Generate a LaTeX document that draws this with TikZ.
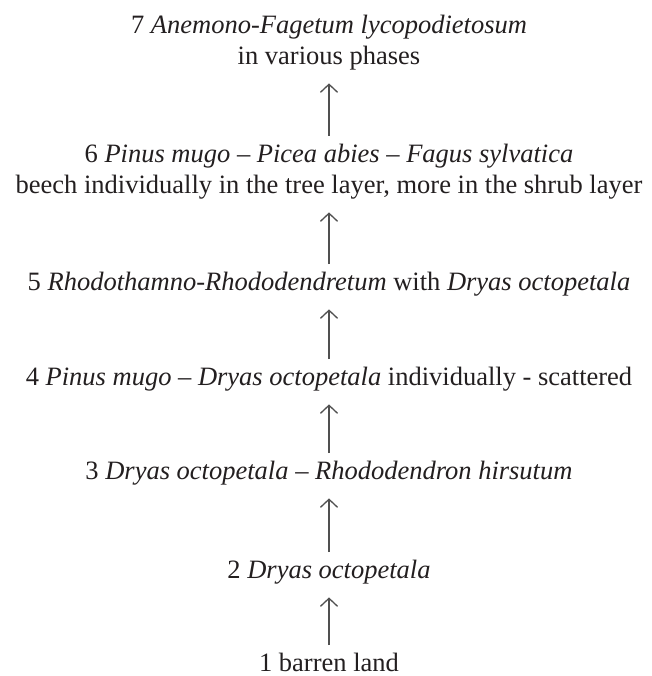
\documentclass[tikz,border=0pt]{standalone}
\usepackage{fontspec}
\setmainfont{Liberation Serif}
\usetikzlibrary{arrows.meta}
\definecolor{txt}{HTML}{231F20}
\definecolor{arrc}{HTML}{505050}
\newcommand{\tp}{\rule{0pt}{26pt}}
\newcommand{\bt}{\rule[-19pt]{0pt}{19pt}}
\tikzset{
  stage/.style={anchor=north, inner sep=0pt, align=center, text=txt,
    font=\fontsize{26.5pt}{31pt}\selectfont},
  arr/.style={draw=arrc, line width=1.3pt,
    -{Straight Barb[length=8pt,width=17pt,line width=1.3pt]}}
}
\begin{document}
\begin{tikzpicture}[x=1pt,y=-1pt]
\useasboundingbox[fill=white] (0,0) rectangle (651,676);
\def\ax{329}
\node[stage] (n7) at (\ax,7) {\tp 7 \textit{Anemono-Fagetum lycopodietosum}\\ in various phases\bt};
\node[stage] (n6) at (\ax,136) {\tp 6 \textit{Pinus mugo} – \textit{Picea abies} – \textit{Fagus sylvatica}\\ beech individually in the tree layer, more in the shrub layer\bt};
\node[stage] (n5) at (\ax,264) {\tp 5 \textit{Rhodothamno-Rhododendretum} with \textit{Dryas octopetala}\bt};
\node[stage] (n4) at (\ax,359) {\tp 4 \textit{Pinus mugo} – \textit{Dryas octopetala} individually - scattered\bt};
\node[stage] (n3) at (\ax,453) {\tp 3 \textit{Dryas octopetala} – \textit{Rhododendron hirsutum}\bt};
\node[stage] (n2) at (\ax,552) {\tp 2 \textit{Dryas octopetala}\bt};
\node[stage] (n1) at (\ax,645) {\tp 1 barren land};
\draw[arr] (n1) -- (n2);
\draw[arr] (n2) -- (n3);
\draw[arr] (n3) -- (n4);
\draw[arr] (n4) -- (n5);
\draw[arr] (n5) -- (n6);
\draw[arr] (n6) -- (n7);
\end{tikzpicture}
\end{document}
